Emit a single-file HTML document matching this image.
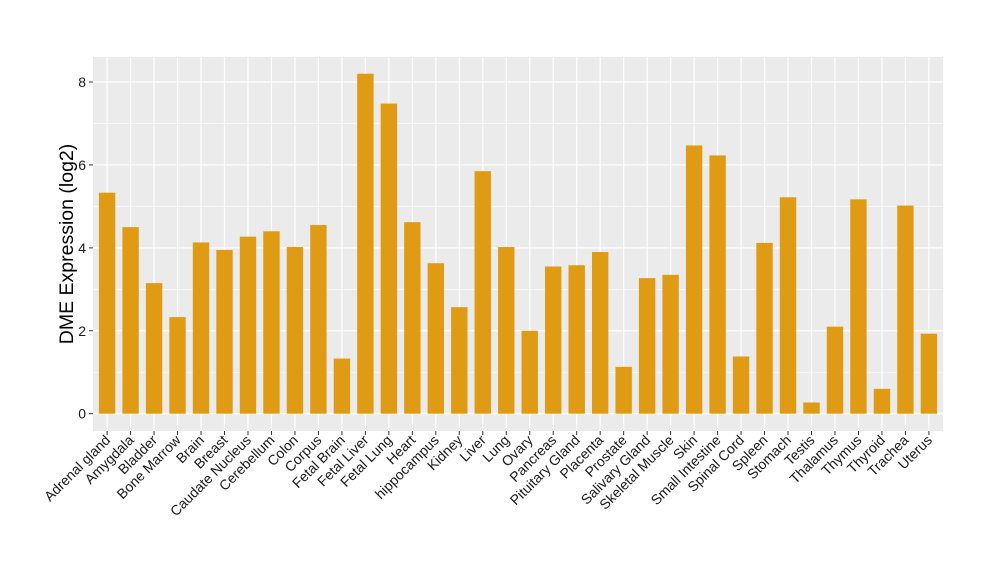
<!DOCTYPE html>
<html><head><meta charset="utf-8"><style>body{margin:0;background:#fff}svg{display:block}</style></head><body>
<svg id="s" width="1000" height="580" xmlns="http://www.w3.org/2000/svg" font-family="Liberation Sans, sans-serif">
<rect x="93" y="57" width="850" height="374" fill="#ebebeb"/>
<g id="g"></g>
</svg>
<script>
const names=["Adrenal gland","Amygdala","Bladder","Bone Marrow","Brain","Breast","Caudate Nucleus","Cerebellum","Colon","Corpus","Fetal Brain","Fetal Liver","Fetal Lung","Heart","hippocampus","Kidney","Liver","Lung","Ovary","Pancreas","Pituitary Gland","Placenta","Prostate","Salivary Gland","Skeletal Muscle","Skin","Small Intestine","Spinal Cord","Spleen","Stomach","Testis","Thalamus","Thymus","Thyroid","Trachea","Uterus"];
const v=[5.33,4.5,3.15,2.33,4.13,3.95,4.27,4.4,4.02,4.55,1.33,8.2,7.48,4.62,3.63,2.57,5.85,4.02,2.0,3.55,3.58,3.9,1.13,3.27,3.35,6.47,6.23,1.38,4.12,5.22,0.27,2.1,5.17,0.6,5.02,1.93];
const y0=413.7,k=41.46,sp=23.48,x0=107.1,bw=16.4;
let h="";
for(let t=1;t<=7;t+=2){const y=y0-t*k;h+=`<line x1="93" x2="943" y1="${y}" y2="${y}" stroke="#fff" stroke-width="0.6"/>`;}
for(let t=0;t<=8;t+=2){const y=y0-t*k;h+=`<line x1="93" x2="943" y1="${y}" y2="${y}" stroke="#fff" stroke-width="1.2"/><line x1="89" x2="93" y1="${y}" y2="${y}" stroke="#333" stroke-width="1"/><text x="86" y="${y+5}" font-size="14" text-anchor="end" fill="#1a1a1a">${t}</text>`;}
names.forEach((n,i)=>{const x=x0+i*sp;h+=`<line x1="${x}" x2="${x}" y1="57" y2="431" stroke="#fff" stroke-width="1.2"/>`;});
names.forEach((n,i)=>{const x=x0+i*sp;h+=`<rect x="${x-bw/2}" y="${y0-v[i]*k}" width="${bw}" height="${v[i]*k}" fill="#e09b14"/><line x1="${x}" x2="${x}" y1="431" y2="435" stroke="#333"/><text transform="translate(${x+4},${441}) rotate(-45)" font-size="14" text-anchor="end" fill="#1a1a1a">${n}</text>`;});
h+=`<text transform="translate(73,244) rotate(-90)" font-size="19.5" text-anchor="middle" fill="#000">DME Expression (log2)</text>`;
document.getElementById("g").innerHTML=h;
</script>
</body></html>
